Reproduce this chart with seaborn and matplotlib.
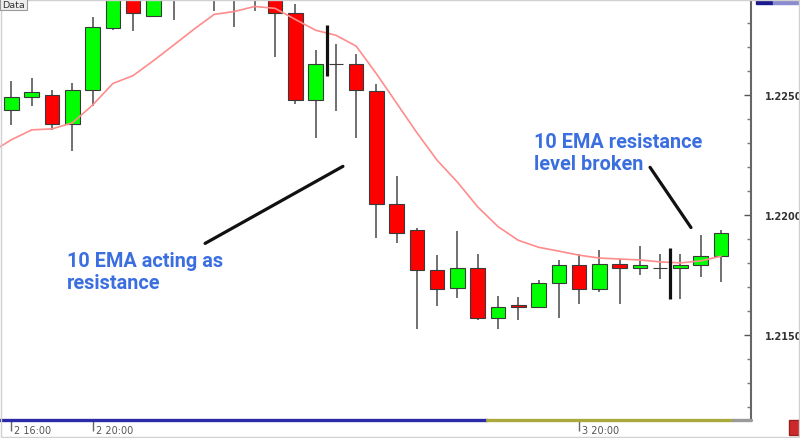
import matplotlib
matplotlib.use('Agg')
import matplotlib.pyplot as plt
import matplotlib.transforms as mtransforms
from matplotlib.patches import Rectangle
import numpy as np
import pandas as pd
import seaborn as sns

# Velas horarias (precio EURUSD aprox.)
opens = [1.22437, 1.22491, 1.22499, 1.22380, 1.22519, 1.22778, 1.22900, 1.22828, 1.22905, 1.22960,
         1.22990, 1.22960, 1.22990, 1.22950, 1.22840, 1.22478, 1.22630, 1.22630, 1.22515, 1.22047,
         1.21936, 1.21771, 1.21697, 1.21780, 1.21570, 1.21627, 1.21619, 1.21718, 1.21792, 1.21693,
         1.21796, 1.21780, 1.21780, 1.21780, 1.21792, 1.21829]
highs = [1.22560, 1.22573, 1.22519, 1.22552, 1.22823, 1.22930, 1.22940, 1.22959, 1.22990, 1.23020,
         1.23030, 1.23020, 1.23010, 1.22980, 1.22880, 1.22688, 1.22712, 1.22671, 1.22548, 1.22162,
         1.21948, 1.21833, 1.21932, 1.21837, 1.21664, 1.21660, 1.21730, 1.21812, 1.21837, 1.21853,
         1.21816, 1.21870, 1.21837, 1.21837, 1.21919, 1.21936]
lows = [1.22375, 1.22454, 1.22355, 1.22265, 1.22454, 1.22770, 1.22766, 1.22825, 1.22811, 1.22900,
        1.22848, 1.22782, 1.22848, 1.22659, 1.22462, 1.22322, 1.22433, 1.22322, 1.21903, 1.21882,
        1.21525, 1.21623, 1.21656, 1.21565, 1.21525, 1.21562, 1.21615, 1.21570, 1.21631, 1.21681,
        1.21631, 1.21751, 1.21734, 1.21652, 1.21743, 1.21722]
closes = [1.22491, 1.22511, 1.22380, 1.22519, 1.22782, 1.22900, 1.22840, 1.22918, 1.22960, 1.22990,
          1.22960, 1.22990, 1.22950, 1.22840, 1.22478, 1.22630, 1.22630, 1.22519, 1.22047, 1.21927,
          1.21771, 1.21693, 1.21780, 1.21570, 1.21619, 1.21619, 1.21718, 1.21792, 1.21693, 1.21796,
          1.21780, 1.21792, 1.21780, 1.21792, 1.21829, 1.21927]

# EMA de 10 periodos (empieza una vela antes del borde izquierdo)
ema_10 = [1.22262, 1.22314, 1.22355, 1.22359, 1.22384, 1.22458, 1.22548, 1.22581, 1.22643, 1.22708,
          1.22774, 1.22836, 1.22848, 1.22869, 1.22861, 1.22815, 1.22770, 1.22749, 1.22704, 1.22589,
          1.22466, 1.22343, 1.22228, 1.22137, 1.22034, 1.21952, 1.21895, 1.21866, 1.21850, 1.21833,
          1.21821, 1.21817, 1.21813, 1.21805, 1.21801, 1.21809, 1.21829]

xtick_idx = [0, 4, 28]
xtick_labels = ['2 16:00', '2 20:00', '3 20:00']
ytick_major = [1.2150, 1.2200, 1.2250]
ytick_labels = ['1.2150', '1.2200', '1.2250']

# Trazos dibujados a mano sobre el grafico (x en velas, y en precio)
vbar_x = [15.56, 32.49]
vbar_y0 = [1.22581, 1.21652]
vbar_y1 = [1.22791, 1.21862]
arrow_x = [[9.55, 16.35], [31.5, 33.52]]
arrow_y = [[1.21882, 1.22203], [1.22199, 1.21948]]

df = pd.DataFrame({'open': opens, 'high': highs, 'low': lows, 'close': closes})
df['idx'] = np.arange(len(df))
df['bull'] = df['close'] >= df['open']

sns.set_theme(style='white')
plt.rcParams['font.family'] = ['Roboto', 'DejaVu Sans']

fig = plt.figure(figsize=(8, 4.39), dpi=100)
ax = fig.add_axes([0, 1 - 421 / 439, 751 / 800, 421 / 439])

# Mechas
ax.vlines(df['idx'], df['low'], df['high'], color='#707070', lw=1.4, zorder=2)

# Cuerpos
colors = np.where(df['bull'], '#00ff00', '#ff0000')
ax.bar(df['idx'], df['close'] - df['open'], bottom=df['open'], width=0.72,
       color=colors, edgecolor='#3a3a3a', linewidth=0.8, zorder=3)

# EMA 10
sns.lineplot(x=np.arange(-1, len(df)), y=ema_10, ax=ax, color='#ff8c8c', lw=1.2, zorder=4)

# Trazos negros
for x, y0, y1 in zip(vbar_x, vbar_y0, vbar_y1):
    ax.plot([x, x], [y0, y1], color='#111111', lw=2.3, zorder=5, solid_capstyle='butt')
for xs, ys in zip(arrow_x, arrow_y):
    ax.plot(xs, ys, color='#111111', lw=2.3, zorder=5)

ax.set_xlim(-0.567, 36.48)
ax.set_ylim(1.211465, 1.228769)

# Ejes
ax.yaxis.tick_right()
ax.set_yticks(ytick_major)
ax.set_yticklabels(ytick_labels, fontsize=7, fontweight='bold', color='#333333', family='DejaVu Sans')
ax.set_yticks(np.arange(1.212, 1.2290, 0.001), minor=True)
ax.tick_params(axis='y', which='major', direction='in', length=5, width=1, color='#555555', pad=10, right=True)
ax.tick_params(axis='y', which='minor', direction='in', length=3, width=1, color='#777777', right=True)

ax.set_xticks(xtick_idx)
ax.set_xticklabels(xtick_labels, fontsize=7, color='#555555', family='DejaVu Sans')
ax.tick_params(axis='x', direction='out', length=8, width=1, color='#666666', pad=-4.5, bottom=True)
offset = mtransforms.ScaledTranslation(3 / 100, 0, fig.dpi_scale_trans)
for lab in ax.get_xticklabels():
    lab.set_ha('left')
    lab.set_transform(lab.get_transform() + offset)

ax.set_xlabel('')
ax.set_ylabel('')
for s in ['left', 'top', 'bottom']:
    ax.spines[s].set_visible(False)
ax.spines['right'].set_color('#666666')
ax.spines['right'].set_linewidth(1.5)

# Banda inferior de colores
ax.plot([0, 487 / 751], [0, 0], transform=ax.transAxes, color='#2b2ba8', lw=2.4, clip_on=False, zorder=6)
ax.plot([487 / 751, 733 / 751], [0, 0], transform=ax.transAxes, color='#a9a93c', lw=2.4, clip_on=False, zorder=6)
ax.plot([733 / 751, 1], [0, 0], transform=ax.transAxes, color='#9a9a9a', lw=2.4, clip_on=False, zorder=6)

# Textos de anotacion
blue = '#3b6fe0'
fs = 14.3
fig.text(67 / 800, 1 - 267 / 439, '10 EMA acting as', color=blue, fontsize=fs, fontweight='bold', va='baseline')
fig.text(67 / 800, 1 - 289 / 439, 'resistance', color=blue, fontsize=fs, fontweight='bold', va='baseline')
fig.text(534 / 800, 1 - 148 / 439, '10 EMA resistance', color=blue, fontsize=fs, fontweight='bold', va='baseline')
fig.text(534 / 800, 1 - 170 / 439, 'level broken', color=blue, fontsize=fs, fontweight='bold', va='baseline')

# Detalles de la plataforma
fig.text(2 / 800, 1 - 5 / 439, 'Data', fontsize=6.8, color='#333333', va='center', family='DejaVu Sans',
         bbox=dict(boxstyle='square,pad=0.2', fc='#eeeeee', ec='#999999', lw=0.8))
fig.patches.append(Rectangle((756 / 800, 1 - 5 / 439), 17 / 800, 4 / 439, transform=fig.transFigure,
                             color='#1a1a8c'))
fig.patches.append(Rectangle((773 / 800, 1 - 5 / 439), 27 / 800, 4 / 439, transform=fig.transFigure,
                             color='#8a8ad0'))
fig.patches.append(Rectangle((789 / 800, 1 - 436 / 439), 11 / 800, 15 / 439, transform=fig.transFigure,
                             fc='#cc2a2a', ec='#992020'))
fig.patches.append(Rectangle((0.001, 0.003), 0.998, 0.995, transform=fig.transFigure,
                             fill=False, ec='#d0d0d0', lw=1))

plt.savefig('out.png', dpi=100)
plt.close()
